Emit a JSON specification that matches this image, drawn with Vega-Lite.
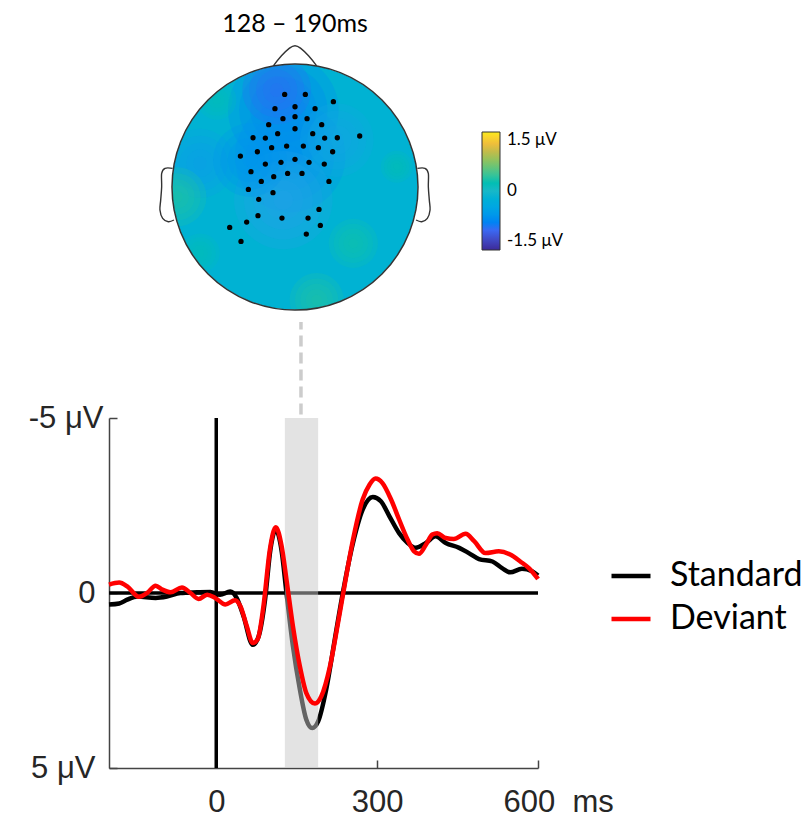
{
"$schema": "https://vega.github.io/schema/vega-lite/v6.json",
"autosize": {"type": "none"},
"padding": {"left": 109, "top": 418, "right": 274, "bottom": 52},
"width": 429,
"height": 350,
"background": "white",
"config": {"view": {"stroke": null}, "font": "Liberation Sans"},
"datasets": {
 "map": [
  {"kind": "base", "x": 0, "y": 0, "r": 1, "v": -0.15},
  {"kind": "blob", "x": -0.095, "y": 0.626, "r": 0.45, "v": -0.75},
  {"kind": "blob", "x": -0.095, "y": 0.626, "r": 0.36, "v": -0.75},
  {"kind": "blob", "x": -0.095, "y": 0.626, "r": 0.27, "v": -0.75},
  {"kind": "blob", "x": -0.095, "y": 0.626, "r": 0.18, "v": -0.75},
  {"kind": "blob", "x": -0.095, "y": 0.626, "r": 0.09, "v": -0.75},
  {"kind": "blob", "x": -0.04, "y": 0.246, "r": 0.45, "v": -0.7},
  {"kind": "blob", "x": -0.04, "y": 0.246, "r": 0.36, "v": -0.7},
  {"kind": "blob", "x": -0.04, "y": 0.246, "r": 0.27, "v": -0.7},
  {"kind": "blob", "x": -0.04, "y": 0.246, "r": 0.18, "v": -0.7},
  {"kind": "blob", "x": -0.04, "y": 0.246, "r": 0.09, "v": -0.7},
  {"kind": "blob", "x": -0.095, "y": -0.106, "r": 0.4, "v": -0.5},
  {"kind": "blob", "x": -0.095, "y": -0.106, "r": 0.32, "v": -0.5},
  {"kind": "blob", "x": -0.095, "y": -0.106, "r": 0.24, "v": -0.5},
  {"kind": "blob", "x": -0.095, "y": -0.106, "r": 0.16, "v": -0.5},
  {"kind": "blob", "x": -0.095, "y": -0.106, "r": 0.08, "v": -0.5},
  {"kind": "blob", "x": -0.772, "y": 0.193, "r": 0.28, "v": -0.55},
  {"kind": "blob", "x": -0.772, "y": 0.193, "r": 0.224, "v": -0.55},
  {"kind": "blob", "x": -0.772, "y": 0.193, "r": 0.168, "v": -0.55},
  {"kind": "blob", "x": -0.772, "y": 0.193, "r": 0.112, "v": -0.55},
  {"kind": "blob", "x": -0.772, "y": 0.193, "r": 0.056, "v": -0.55},
  {"kind": "blob", "x": 0.339, "y": 0.382, "r": 0.3, "v": -0.45},
  {"kind": "blob", "x": 0.339, "y": 0.382, "r": 0.24, "v": -0.45},
  {"kind": "blob", "x": 0.339, "y": 0.382, "r": 0.18, "v": -0.45},
  {"kind": "blob", "x": 0.339, "y": 0.382, "r": 0.12, "v": -0.45},
  {"kind": "blob", "x": 0.339, "y": 0.382, "r": 0.06, "v": -0.45},
  {"kind": "blob", "x": -0.366, "y": 0.22, "r": 0.3, "v": -0.65},
  {"kind": "blob", "x": -0.366, "y": 0.22, "r": 0.24, "v": -0.65},
  {"kind": "blob", "x": -0.366, "y": 0.22, "r": 0.18, "v": -0.65},
  {"kind": "blob", "x": -0.366, "y": 0.22, "r": 0.12, "v": -0.65},
  {"kind": "blob", "x": -0.366, "y": 0.22, "r": 0.06, "v": -0.65},
  {"kind": "blob", "x": -0.149, "y": 0.789, "r": 0.28, "v": -0.95},
  {"kind": "blob", "x": -0.149, "y": 0.789, "r": 0.224, "v": -0.95},
  {"kind": "blob", "x": -0.149, "y": 0.789, "r": 0.168, "v": -0.95},
  {"kind": "blob", "x": -0.149, "y": 0.789, "r": 0.112, "v": -0.95},
  {"kind": "blob", "x": -0.149, "y": 0.789, "r": 0.056, "v": -0.95},
  {"kind": "blob", "x": -0.96, "y": -0.08, "r": 0.24, "v": 0.3},
  {"kind": "blob", "x": -0.96, "y": -0.08, "r": 0.192, "v": 0.3},
  {"kind": "blob", "x": -0.96, "y": -0.08, "r": 0.144, "v": 0.3},
  {"kind": "blob", "x": -0.96, "y": -0.08, "r": 0.096, "v": 0.3},
  {"kind": "blob", "x": -0.96, "y": -0.08, "r": 0.048, "v": 0.3},
  {"kind": "blob", "x": -0.637, "y": 0.707, "r": 0.16, "v": 0.15},
  {"kind": "blob", "x": -0.637, "y": 0.707, "r": 0.128, "v": 0.15},
  {"kind": "blob", "x": -0.637, "y": 0.707, "r": 0.096, "v": 0.15},
  {"kind": "blob", "x": -0.637, "y": 0.707, "r": 0.064, "v": 0.15},
  {"kind": "blob", "x": -0.637, "y": 0.707, "r": 0.032, "v": 0.15},
  {"kind": "blob", "x": 0.827, "y": 0.165, "r": 0.13, "v": 0.2},
  {"kind": "blob", "x": 0.827, "y": 0.165, "r": 0.104, "v": 0.2},
  {"kind": "blob", "x": 0.827, "y": 0.165, "r": 0.078, "v": 0.2},
  {"kind": "blob", "x": 0.827, "y": 0.165, "r": 0.052, "v": 0.2},
  {"kind": "blob", "x": 0.827, "y": 0.165, "r": 0.026, "v": 0.2},
  {"kind": "blob", "x": 0.474, "y": -0.458, "r": 0.2, "v": 0.25},
  {"kind": "blob", "x": 0.474, "y": -0.458, "r": 0.16, "v": 0.25},
  {"kind": "blob", "x": 0.474, "y": -0.458, "r": 0.12, "v": 0.25},
  {"kind": "blob", "x": 0.474, "y": -0.458, "r": 0.08, "v": 0.25},
  {"kind": "blob", "x": 0.474, "y": -0.458, "r": 0.04, "v": 0.25},
  {"kind": "blob", "x": 0.176, "y": -0.919, "r": 0.22, "v": 0.3},
  {"kind": "blob", "x": 0.176, "y": -0.919, "r": 0.176, "v": 0.3},
  {"kind": "blob", "x": 0.176, "y": -0.919, "r": 0.132, "v": 0.3},
  {"kind": "blob", "x": 0.176, "y": -0.919, "r": 0.088, "v": 0.3},
  {"kind": "blob", "x": 0.176, "y": -0.919, "r": 0.044, "v": 0.3},
  {"kind": "blob", "x": -0.772, "y": -0.537, "r": 0.16, "v": 0.15},
  {"kind": "blob", "x": -0.772, "y": -0.537, "r": 0.128, "v": 0.15},
  {"kind": "blob", "x": -0.772, "y": -0.537, "r": 0.096, "v": 0.15},
  {"kind": "blob", "x": -0.772, "y": -0.537, "r": 0.064, "v": 0.15},
  {"kind": "blob", "x": -0.772, "y": -0.537, "r": 0.032, "v": 0.15}
 ],
 "head": [{"x": 0, "y": 0}],
 "outline": [
  {"part": "nose", "i": 0, "x": -0.176, "y": 0.985},
  {"part": "nose", "i": 1, "x": 0, "y": 1.149},
  {"part": "nose", "i": 2, "x": 0.176, "y": 0.985},
  {"part": "earL", "i": 0, "x": -0.995, "y": 0.152},
  {"part": "earL", "i": 1, "x": -1.057, "y": 0.152},
  {"part": "earL", "i": 2, "x": -1.084, "y": 0.111},
  {"part": "earL", "i": 3, "x": -1.084, "y": 0.003},
  {"part": "earL", "i": 4, "x": -1.092, "y": -0.106},
  {"part": "earL", "i": 5, "x": -1.098, "y": -0.187},
  {"part": "earL", "i": 6, "x": -1.076, "y": -0.255},
  {"part": "earL", "i": 7, "x": -1.03, "y": -0.282},
  {"part": "earL", "i": 8, "x": -0.984, "y": -0.268},
  {"part": "earR", "i": 0, "x": 0.995, "y": 0.152},
  {"part": "earR", "i": 1, "x": 1.057, "y": 0.152},
  {"part": "earR", "i": 2, "x": 1.084, "y": 0.111},
  {"part": "earR", "i": 3, "x": 1.084, "y": 0.003},
  {"part": "earR", "i": 4, "x": 1.092, "y": -0.106},
  {"part": "earR", "i": 5, "x": 1.098, "y": -0.187},
  {"part": "earR", "i": 6, "x": 1.076, "y": -0.255},
  {"part": "earR", "i": 7, "x": 1.03, "y": -0.282},
  {"part": "earR", "i": 8, "x": 0.984, "y": -0.268}
 ],
 "electrodes": [
  {"x": -0.084, "y": 0.753}, {"x": 0.084, "y": 0.753}, {"x": 0.312, "y": 0.694},
  {"x": -0.163, "y": 0.637}, {"x": 0.0, "y": 0.653}, {"x": 0.163, "y": 0.637},
  {"x": -0.098, "y": 0.556}, {"x": 0.0, "y": 0.572}, {"x": 0.098, "y": 0.556},
  {"x": -0.214, "y": 0.507}, {"x": 0.217, "y": 0.507},
  {"x": 0.0, "y": 0.474}, {"x": -0.141, "y": 0.434}, {"x": 0.144, "y": 0.434},
  {"x": -0.341, "y": 0.401}, {"x": -0.241, "y": 0.398}, {"x": 0.241, "y": 0.398}, {"x": 0.344, "y": 0.401}, {"x": 0.526, "y": 0.415},
  {"x": -0.19, "y": 0.32}, {"x": -0.068, "y": 0.333}, {"x": 0.068, "y": 0.333}, {"x": 0.19, "y": 0.32},
  {"x": -0.306, "y": 0.287}, {"x": 0.306, "y": 0.287},
  {"x": -0.444, "y": 0.252},
  {"x": -0.241, "y": 0.187}, {"x": -0.114, "y": 0.201}, {"x": 0.0, "y": 0.225}, {"x": 0.114, "y": 0.201}, {"x": 0.238, "y": 0.187},
  {"x": -0.358, "y": 0.125}, {"x": -0.06, "y": 0.111}, {"x": 0.057, "y": 0.111},
  {"x": -0.173, "y": 0.084}, {"x": 0.276, "y": 0.046}, {"x": -0.274, "y": 0.046},
  {"x": -0.379, "y": -0.019}, {"x": -0.179, "y": -0.046},
  {"x": -0.295, "y": -0.1},
  {"x": 0.195, "y": -0.182},
  {"x": -0.301, "y": -0.233}, {"x": -0.106, "y": -0.252}, {"x": 0.106, "y": -0.252},
  {"x": -0.393, "y": -0.285}, {"x": 0.206, "y": -0.312},
  {"x": -0.531, "y": -0.328}, {"x": 0.092, "y": -0.382},
  {"x": -0.439, "y": -0.442}
 ],
 "maptitle": [{"label": "128 – 190ms", "x": 0, "y": 1.325}],
 "refs": [
  {"kind": "zero", "t": -200, "t2": 600, "uv": 0},
  {"kind": "onset", "t": 0, "uv": -5, "uv2": 5},
  {"kind": "window", "t": 128, "t2": 190, "uv": -5, "uv2": 5},
  {"kind": "link", "t": 158, "uv": -5.1, "uv2": -7.74}
 ],
 "erp": [
  {"cond": "Standard", "t": -200, "uv": 0.33}, {"cond": "Standard", "t": -181, "uv": 0.3}, {"cond": "Standard", "t": -166, "uv": 0.19},
  {"cond": "Standard", "t": -147, "uv": 0.1}, {"cond": "Standard", "t": -113, "uv": 0.14}, {"cond": "Standard", "t": -92, "uv": 0.1},
  {"cond": "Standard", "t": -67, "uv": 0.0}, {"cond": "Standard", "t": -36, "uv": -0.02}, {"cond": "Standard", "t": -11, "uv": -0.03},
  {"cond": "Standard", "t": 7, "uv": 0.05}, {"cond": "Standard", "t": 26, "uv": -0.04}, {"cond": "Standard", "t": 38, "uv": 0.14},
  {"cond": "Standard", "t": 51, "uv": 0.67}, {"cond": "Standard", "t": 68, "uv": 1.48}, {"cond": "Standard", "t": 79, "uv": 1.24},
  {"cond": "Standard", "t": 91, "uv": 0.19}, {"cond": "Standard", "t": 101, "uv": -1.24}, {"cond": "Standard", "t": 111, "uv": -1.81},
  {"cond": "Standard", "t": 122, "uv": -1.19}, {"cond": "Standard", "t": 131, "uv": 0.0}, {"cond": "Standard", "t": 143, "uv": 1.52},
  {"cond": "Standard", "t": 156, "uv": 2.76}, {"cond": "Standard", "t": 168, "uv": 3.62}, {"cond": "Standard", "t": 179, "uv": 3.86},
  {"cond": "Standard", "t": 190, "uv": 3.67}, {"cond": "Standard", "t": 205, "uv": 2.76}, {"cond": "Standard", "t": 221, "uv": 1.33},
  {"cond": "Standard", "t": 236, "uv": 0.0}, {"cond": "Standard", "t": 255, "uv": -1.43}, {"cond": "Standard", "t": 273, "uv": -2.38},
  {"cond": "Standard", "t": 292, "uv": -2.74}, {"cond": "Standard", "t": 307, "uv": -2.62}, {"cond": "Standard", "t": 323, "uv": -2.19},
  {"cond": "Standard", "t": 341, "uv": -1.71}, {"cond": "Standard", "t": 357, "uv": -1.43}, {"cond": "Standard", "t": 372, "uv": -1.29},
  {"cond": "Standard", "t": 391, "uv": -1.43}, {"cond": "Standard", "t": 409, "uv": -1.62}, {"cond": "Standard", "t": 428, "uv": -1.43},
  {"cond": "Standard", "t": 453, "uv": -1.29}, {"cond": "Standard", "t": 471, "uv": -1.14}, {"cond": "Standard", "t": 490, "uv": -0.97},
  {"cond": "Standard", "t": 515, "uv": -0.9}, {"cond": "Standard", "t": 533, "uv": -0.71}, {"cond": "Standard", "t": 548, "uv": -0.59},
  {"cond": "Standard", "t": 570, "uv": -0.69}, {"cond": "Standard", "t": 589, "uv": -0.62}, {"cond": "Standard", "t": 600, "uv": -0.5},
  {"cond": "Deviant", "t": -200, "uv": -0.24}, {"cond": "Deviant", "t": -181, "uv": -0.3}, {"cond": "Deviant", "t": -166, "uv": -0.19},
  {"cond": "Deviant", "t": -144, "uv": 0.11}, {"cond": "Deviant", "t": -129, "uv": 0.0}, {"cond": "Deviant", "t": -113, "uv": -0.21},
  {"cond": "Deviant", "t": -101, "uv": -0.1}, {"cond": "Deviant", "t": -85, "uv": -0.02}, {"cond": "Deviant", "t": -64, "uv": -0.16},
  {"cond": "Deviant", "t": -48, "uv": 0.0}, {"cond": "Deviant", "t": -33, "uv": 0.17}, {"cond": "Deviant", "t": -17, "uv": 0.05},
  {"cond": "Deviant", "t": -2, "uv": 0.14}, {"cond": "Deviant", "t": 17, "uv": 0.33}, {"cond": "Deviant", "t": 35, "uv": 0.21},
  {"cond": "Deviant", "t": 45, "uv": 0.38}, {"cond": "Deviant", "t": 57, "uv": 0.95}, {"cond": "Deviant", "t": 68, "uv": 1.43},
  {"cond": "Deviant", "t": 77, "uv": 1.33}, {"cond": "Deviant", "t": 88, "uv": 0.38}, {"cond": "Deviant", "t": 100, "uv": -1.24},
  {"cond": "Deviant", "t": 111, "uv": -1.88}, {"cond": "Deviant", "t": 122, "uv": -1.33}, {"cond": "Deviant", "t": 131, "uv": -0.38},
  {"cond": "Deviant", "t": 143, "uv": 0.95}, {"cond": "Deviant", "t": 156, "uv": 2.1}, {"cond": "Deviant", "t": 168, "uv": 2.86},
  {"cond": "Deviant", "t": 184, "uv": 3.16}, {"cond": "Deviant", "t": 196, "uv": 2.95}, {"cond": "Deviant", "t": 212, "uv": 2.1},
  {"cond": "Deviant", "t": 227, "uv": 0.86}, {"cond": "Deviant", "t": 239, "uv": -0.19}, {"cond": "Deviant", "t": 255, "uv": -1.52},
  {"cond": "Deviant", "t": 273, "uv": -2.67}, {"cond": "Deviant", "t": 286, "uv": -3.1}, {"cond": "Deviant", "t": 297, "uv": -3.27},
  {"cond": "Deviant", "t": 310, "uv": -3.14}, {"cond": "Deviant", "t": 326, "uv": -2.67}, {"cond": "Deviant", "t": 341, "uv": -2.1},
  {"cond": "Deviant", "t": 357, "uv": -1.52}, {"cond": "Deviant", "t": 369, "uv": -1.19}, {"cond": "Deviant", "t": 378, "uv": -1.12},
  {"cond": "Deviant", "t": 391, "uv": -1.38}, {"cond": "Deviant", "t": 403, "uv": -1.67}, {"cond": "Deviant", "t": 412, "uv": -1.71},
  {"cond": "Deviant", "t": 428, "uv": -1.57}, {"cond": "Deviant", "t": 443, "uv": -1.54}, {"cond": "Deviant", "t": 465, "uv": -1.69},
  {"cond": "Deviant", "t": 481, "uv": -1.48}, {"cond": "Deviant", "t": 502, "uv": -1.14}, {"cond": "Deviant", "t": 527, "uv": -1.19},
  {"cond": "Deviant", "t": 548, "uv": -1.1}, {"cond": "Deviant", "t": 567, "uv": -0.9}, {"cond": "Deviant", "t": 583, "uv": -0.71},
  {"cond": "Deviant", "t": 600, "uv": -0.4}
 ]
},
"layer": [
 {
  "encoding": {
   "x": {"field": "x", "type": "quantitative", "scale": {"domain": [-1.5122, 1.9756], "nice": false, "zero": false}, "axis": null},
   "y": {"field": "y", "type": "quantitative", "scale": {"domain": [-4.724, -1.878], "nice": false, "zero": false}, "axis": null}
  },
  "layer": [
   {
    "data": {"name": "map"},
    "transform": [{"filter": "datum.kind == 'base'"}],
    "mark": {"type": "point", "shape": "circle", "filled": true, "opacity": 1, "strokeWidth": 0},
    "encoding": {
     "size": {"field": "r", "type": "quantitative", "scale": {"type": "pow", "exponent": 2, "domain": [0, 1], "range": [0, 60516]}, "legend": null},
     "fill": {"field": "v", "type": "quantitative",
      "scale": {"domain": [-1.5, -1, -0.5, 0, 0.5, 1, 1.25, 1.5], "range": ["#3b2a98", "#3a68f2", "#22a2e6", "#17b8c8", "#4cc48a", "#c2bc4a", "#fbbe3a", "#f7ec1c"]},
      "legend": {"orient": "none", "legendX": 373, "legendY": -286, "direction": "vertical", "gradientLength": 118, "gradientThickness": 18,
       "gradientStrokeColor": "#333", "gradientStrokeWidth": 1, "values": [-1.5, 0, 1.5],
       "labelExpr": "datum.value == 0 ? '0' : datum.value + ' μV'", "title": null, "labelFont": "Lato", "labelFontSize": 17,
       "labelColor": "black", "labelOffset": 7, "labelOverlap": false, "padding": 0}}
    }
   },
   {
    "data": {"name": "map"},
    "transform": [{"filter": "datum.kind == 'blob'"}],
    "mark": {"type": "point", "shape": "circle", "filled": true, "opacity": 0.26, "strokeWidth": 0},
    "encoding": {
     "size": {"field": "r", "type": "quantitative", "legend": null},
     "fill": {"field": "v", "type": "quantitative", "legend": null}
    }
   },
   {
    "data": {"name": "head"},
    "mark": {"type": "point", "shape": "circle", "filled": false, "stroke": "white", "strokeWidth": 62, "opacity": 1},
    "encoding": {"size": {"datum": 1.25, "type": "quantitative", "legend": null}}
   },
   {
    "data": {"name": "head"},
    "mark": {"type": "point", "shape": "circle", "filled": false, "stroke": "#333333", "strokeWidth": 1.5, "opacity": 1},
    "encoding": {"size": {"datum": 1, "type": "quantitative", "legend": null}}
   },
   {
    "data": {"name": "outline"},
    "mark": {"type": "line", "color": "#333333", "strokeWidth": 1.4, "interpolate": "cardinal"},
    "encoding": {"detail": {"field": "part"}, "order": {"field": "i", "type": "quantitative"}}
   },
   {
    "data": {"name": "electrodes"},
    "mark": {"type": "point", "shape": "circle", "filled": true, "color": "black", "size": 28, "opacity": 1}
   },
   {
    "data": {"name": "maptitle"},
    "mark": {"type": "text", "font": "Lato", "fontSize": 25, "color": "black", "baseline": "middle", "align": "center"},
    "encoding": {"text": {"field": "label"}}
   }
  ]
 },
 {
  "encoding": {
   "x": {"field": "t", "type": "quantitative", "scale": {"domain": [-200, 600], "nice": false, "zero": false},
    "axis": {"values": [0, 300, 600], "format": "d", "labelExpr": "datum.value == 600 ? '600\u00a0\u00a0ms' : datum.label", "title": null, "grid": false,
     "domainColor": "#444444", "domainWidth": 1.5, "tickColor": "#444444", "tickWidth": 1.5, "tickSize": -8,
     "labelAlign": {"condition": {"test": "datum.value == 600", "value": "left"}, "value": "center"},
     "labelOffset": {"condition": {"test": "datum.value == 600", "value": -35}, "value": 0},
     "labelFont": "Liberation Sans", "labelFontSize": 31, "labelColor": "#262626", "labelPadding": 27, "labelFlush": false, "labelOverlap": false}},
   "y": {"field": "uv", "type": "quantitative", "scale": {"domain": [-5, 5], "reverse": true, "nice": false, "zero": false},
    "axis": {"values": [-5, 0, 5], "labelExpr": "datum.value == 0 ? '0' : datum.value + ' μV'", "title": null, "grid": false,
     "domainColor": "#444444", "domainWidth": 1.5, "tickColor": "#444444", "tickWidth": 1.5, "tickSize": -8,
     "labelPadding": {"condition": {"test": "datum.value == -5", "value": 14}, "value": 22},
     "labelFont": "Liberation Sans", "labelFontSize": 31, "labelColor": "#262626", "labelFlush": false, "labelOverlap": false}}
  },
  "layer": [
   {
    "data": {"name": "refs"},
    "transform": [{"filter": "datum.kind == 'zero'"}],
    "mark": {"type": "rule", "color": "black", "strokeWidth": 3.5},
    "encoding": {"x2": {"field": "t2"}}
   },
   {
    "data": {"name": "refs"},
    "transform": [{"filter": "datum.kind == 'onset'"}],
    "mark": {"type": "rule", "color": "black", "strokeWidth": 3.5},
    "encoding": {"y2": {"field": "uv2"}}
   },
   {
    "data": {"name": "erp"},
    "transform": [{"filter": "datum.cond == 'Standard'"}],
    "mark": {"type": "line", "strokeWidth": 4.5, "interpolate": "monotone", "strokeJoin": "round"},
    "encoding": {
     "stroke": {"field": "cond", "type": "nominal", "scale": {"domain": ["Standard", "Deviant"], "range": ["black", "#ff0000"]},
      "legend": {"orient": "none", "legendX": 500, "legendY": 136, "title": null, "symbolType": "stroke", "symbolSize": 1521,
       "symbolStrokeWidth": 4.5, "labelFont": "Lato", "labelFontSize": 34, "labelColor": "black", "labelOffset": 17,
       "rowPadding": 4, "padding": 0, "labelLimit": 300}}
    }
   },
   {
    "data": {"name": "refs"},
    "transform": [{"filter": "datum.kind == 'window'"}],
    "mark": {"type": "rect", "color": "#c8c8c8", "opacity": 0.5},
    "encoding": {"x2": {"field": "t2"}, "y2": {"field": "uv2"}}
   },
   {
    "data": {"name": "erp"},
    "transform": [{"filter": "datum.cond == 'Deviant'"}],
    "mark": {"type": "line", "strokeWidth": 4.5, "interpolate": "monotone", "strokeJoin": "round"},
    "encoding": {
     "stroke": {"field": "cond", "type": "nominal", "scale": {"domain": ["Standard", "Deviant"], "range": ["black", "#ff0000"]}}
    }
   },
   {
    "data": {"name": "refs"},
    "transform": [{"filter": "datum.kind == 'link'"}],
    "mark": {"type": "rule", "color": "#cccccc", "strokeWidth": 3.5, "strokeDash": [11, 6]},
    "encoding": {"y2": {"field": "uv2"}}
   }
  ]
 }
],
"resolve": {"scale": {"x": "independent", "y": "independent"}}
}
